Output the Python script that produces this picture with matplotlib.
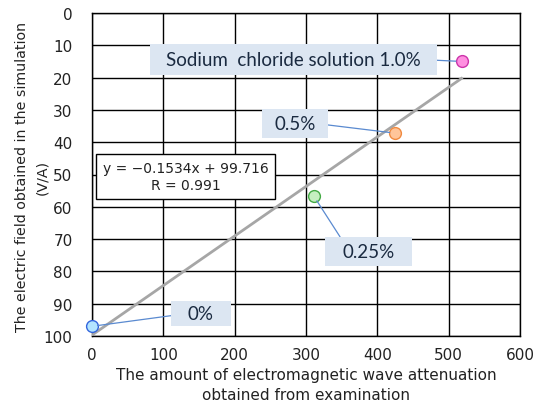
import matplotlib
matplotlib.use("Agg")
import matplotlib.pyplot as plt
from matplotlib.path import Path
import numpy as np

# data
labels = ["0%", "0.25%", "0.5%", "Sodium  chloride solution 1.0%"]
x_vals = [0, 311, 425, 518]
y_vals = [97, 56.7, 37.2, 15]
face_colors = ["#b3e5ff", "#c6efc0", "#ffc59a", "#ff8fe0"]
edge_colors = ["#3366dd", "#44aa44", "#f08a40", "#cc33aa"]
slope, intercept = -0.1534, 99.716
eq_text = "y = \u22120.1534x + 99.716\nR = 0.991"
label_pos = [(152.8, 93.0), (387.6, 73.8), (284.6, 34.2), (282.5, 14.4)]
label_box = [(60, 25), (87, 29), (66, 29), (287, 31)]
label_rel = [(0, 0.5), (0.03, 1.0), (1, 0.5), (1, 0.5)]
x_ticks = [0, 100, 200, 300, 400, 500, 600]
y_ticks = [0, 10, 20, 30, 40, 50, 60, 70, 80, 90, 100]


def fixed_box(w, h):
    def style(x0, y0, width, height, mutation_size):
        cx, cy = x0 + width / 2, y0 + height / 2
        a, b = cx - w / 2, cx + w / 2
        c, d = cy - h / 2, cy + h / 2
        return Path([(a, c), (b, c), (b, d), (a, d), (a, c)], closed=True)
    return style


fig = plt.figure(figsize=(5.41, 4.06), dpi=100)
ax = fig.add_axes([92/541, 1-337/406, 428/541, 323/406])

ax.set_xlim(0, 600)
ax.set_ylim(100, 0)
ax.set_xticks(x_ticks)
ax.set_yticks(y_ticks)
ax.grid(True, color="black", lw=1.0)
ax.set_axisbelow(True)
for s in ax.spines.values():
    s.set_color("black")
    s.set_linewidth(1.0)
ax.tick_params(length=0, labelsize=11, colors="#222222")
ax.tick_params(axis="y", pad=14)
ax.tick_params(axis="x", pad=8)

# trend line
xt = np.array([min(x_vals), max(x_vals)])
ax.plot(xt, slope * xt + intercept, color="#a6a6a6", lw=2, zorder=3)

# points
for x, y, fc, ec in zip(x_vals, y_vals, face_colors, edge_colors):
    ax.plot(x, y, "o", ms=8.5, mfc=fc, mec=ec, mew=1.0, zorder=5, clip_on=False)

# labels with leaders
for lab, (tx, ty), (bw, bh), rel, x, y in zip(labels, label_pos, label_box,
                                              label_rel, x_vals, y_vals):
    ax.annotate(lab, xy=(x, y), xytext=(tx, ty), ha="center", va="center",
                fontsize=13.5, family="Lato", color="#1a2a40",
                bbox=dict(boxstyle=fixed_box(bw, bh), fc="#dce6f2", ec="none"),
                arrowprops=dict(arrowstyle="-", color="#5a8ad0", lw=0.9,
                                relpos=rel, shrinkA=0, shrinkB=4),
                zorder=6)

# equation box
ax.text(131, 50.6, eq_text, ha="center", va="center", fontsize=10,
        linespacing=1.35, color="#222222",
        bbox=dict(boxstyle="square,pad=0.45", fc="white", ec="black", lw=1.0),
        zorder=6)

ax.set_xlabel("The amount of electromagnetic wave attenuation\nobtained from examination",
              fontsize=11, color="#222222", linespacing=1.45)
ax.xaxis.set_label_coords(0.5, -0.095)
ax.xaxis.label.set_va("top")
ax.set_ylabel("The electric field obtained in the simulation\n(V/A)",
              fontsize=10.2, color="#222222", linespacing=1.6)
ax.yaxis.set_label_coords(-0.10, 0.495)

fig.savefig("out.png", dpi=100)
